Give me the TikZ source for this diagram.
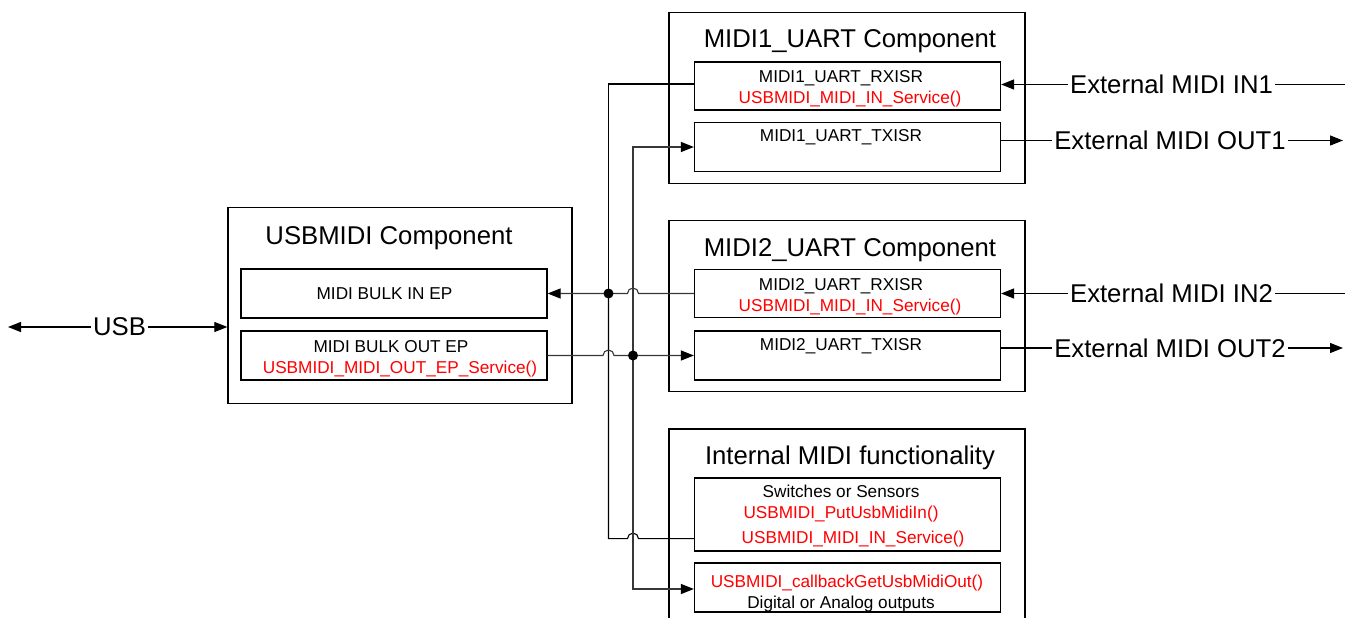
\documentclass[tikz,border=0pt]{standalone}
\usepackage{fontspec}
\setmainfont{Liberation Sans}
\usetikzlibrary{arrows.meta,calc}
\definecolor{fnred}{RGB}{255,0,0}
\definecolor{wiregray}{RGB}{55,55,55}
\tikzset{
  outerbox/.style={draw=black,line width=1.3pt,inner sep=0pt},
  innerbox/.style={draw=black,line width=1.2pt,inner sep=0pt},
  bigtxt/.style={font=\fontsize{25.7}{30}\selectfont,inner sep=0pt,anchor=base},
  smalltxt/.style={font=\fontsize{17.2}{20}\selectfont,inner sep=0pt,anchor=base},
  fntxt/.style={smalltxt,text=fnred},
  conn/.style={line width=1.1pt,draw=black},
  gconn/.style={line width=1.1pt,draw=wiregray},
  tip/.style={-{Triangle[length=13pt,width=10pt,color=black]}},
  dot/.style={circle,fill=black,inner sep=0pt,minimum size=10pt},
  lbl/.style={font=\fontsize{25.7}{30}\selectfont,fill=white,inner sep=2pt},
}
\begin{document}
\begin{tikzpicture}[x=1pt,y=-1pt]
\useasboundingbox (0,0) rectangle (1347,618);
\clip (0,0) rectangle (1347,618);

% outer component boxes
\node[outerbox,minimum width=344pt,minimum height=196pt] (usbbox) at (400,305.5) {};
\node[outerbox,minimum width=356pt,minimum height=171pt] (m1box) at (847,98) {};
\node[outerbox,minimum width=356pt,minimum height=171pt] (m2box) at (847,306) {};
\node[outerbox,minimum width=356pt,minimum height=242pt] (intbox) at (847,550) {};

% titles
\node[bigtxt] (tusb) at (389,244) {USBMIDI Component};
\node[bigtxt] (tm1) at (850,48) {MIDI1\_UART Component};
\node[bigtxt] (tm2) at (850,256) {MIDI2\_UART Component};
\node[bigtxt] (tint) at (850,464) {Internal MIDI functionality};

% inner boxes
\node[innerbox,minimum width=306pt,minimum height=49pt] (bulkin) at (394,293.5) {};
\node[innerbox,minimum width=306pt,minimum height=49pt] (bulkout) at (394,355.5) {};
\node[innerbox,minimum width=306pt,minimum height=48pt] (rx1) at (847.5,86) {};
\node[innerbox,minimum width=306pt,minimum height=49pt] (tx1) at (847.5,147) {};
\node[innerbox,minimum width=306pt,minimum height=48pt] (rx2) at (847.5,293.5) {};
\node[innerbox,minimum width=306pt,minimum height=49pt] (tx2) at (847.5,355.5) {};
\node[innerbox,minimum width=306pt,minimum height=73pt] (sw) at (847.5,514.5) {};
\node[innerbox,minimum width=306pt,minimum height=49pt] (cb) at (847.5,587.5) {};

% inner texts
\node[smalltxt] (trx1) at (841,82) {MIDI1\_UART\_RXISR};
\node[fntxt] (frx1) at (850,103) {USBMIDI\_MIDI\_IN\_Service()};
\node[smalltxt] (ttx1) at (841,141) {MIDI1\_UART\_TXISR};
\node[smalltxt] (trx2) at (841,290) {MIDI2\_UART\_RXISR};
\node[fntxt] (frx2) at (850,311) {USBMIDI\_MIDI\_IN\_Service()};
\node[smalltxt] (ttx2) at (841,350) {MIDI2\_UART\_TXISR};
\node[smalltxt] (tbin) at (384.5,299) {MIDI BULK IN EP};
\node[smalltxt] (tbout) at (391,352) {MIDI BULK OUT EP};
\node[fntxt] (fbout) at (400,373) {USBMIDI\_MIDI\_OUT\_EP\_Service()};
\node[smalltxt] (tsw) at (841,497) {Switches or Sensors};
\node[fntxt] (fsw1) at (841,518) {USBMIDI\_PutUsbMidiIn()};
\node[fntxt] (fsw2) at (853,543) {USBMIDI\_MIDI\_IN\_Service()};
\node[fntxt] (fcb) at (847,587) {USBMIDI\_callbackGetUsbMidiOut()};
\node[smalltxt] (tcb) at (841,608) {Digital or Analog outputs};

% junctions
\coordinate (ja) at (608.5,293.5);
\coordinate (jb) at (633,355.5);
\coordinate (swl) at ([yshift=13pt]sw.south west);

% internal connectors
\draw[conn] ([yshift=2pt]rx1.west) -| (ja);
\draw[conn] (swl) -- ($(jb |- swl)+(5.5,0)$) arc[start angle=0,end angle=180,radius=5.5pt] -| (ja);
\draw[gconn,tip] (rx2.west) -- ($(jb |- rx2.west)+(5.5,0)$) arc[start angle=0,end angle=180,radius=5.5pt] -- (ja) -- (bulkin.east);
\draw[gconn,tip] (bulkout.east) -- ($(ja |- bulkout.east)+(-5.5,0)$) arc[start angle=180,end angle=0,radius=5.5pt] -- (jb) -- (tx2.west);
\draw[gconn,tip] (jb) |- (tx1.west);
\draw[gconn,tip] (jb) |- ([yshift=-1.5pt]cb.west);
\node[dot] (da) at (ja) {};
\node[dot] (db) at (jb) {};

% external connectors
\coordinate (in1end) at (1345,84.5);
\coordinate (out1end) at (1343,140.5);
\coordinate (in2end) at (1345,293.5);
\coordinate (out2end) at (1343,348);
\coordinate (usbend) at (8,327);
\draw[conn,tip] (in1end) -- ([yshift=1.5pt]rx1.east);
\draw[conn,tip] ([yshift=6.5pt]tx1.east) -- (out1end);
\draw[conn,tip] (in2end) -- (rx2.east);
\draw[conn,tip] ([yshift=7.5pt]tx2.east) -- (out2end);
\draw[conn,{Triangle[length=13pt,width=10pt]}-{Triangle[length=13pt,width=10pt]}] (usbend) -- (usbbox.west |- usbend);
\node[lbl] (lin1) at (1171.5,84.5) {External MIDI IN1};
\node[lbl] (lout1) at (1170,140.5) {External MIDI OUT1};
\node[lbl] (lin2) at (1171.5,293.5) {External MIDI IN2};
\node[lbl] (lout2) at (1170,348) {External MIDI OUT2};
\node[lbl] (lusb) at (119.5,327) {USB};
\end{tikzpicture}
\end{document}
